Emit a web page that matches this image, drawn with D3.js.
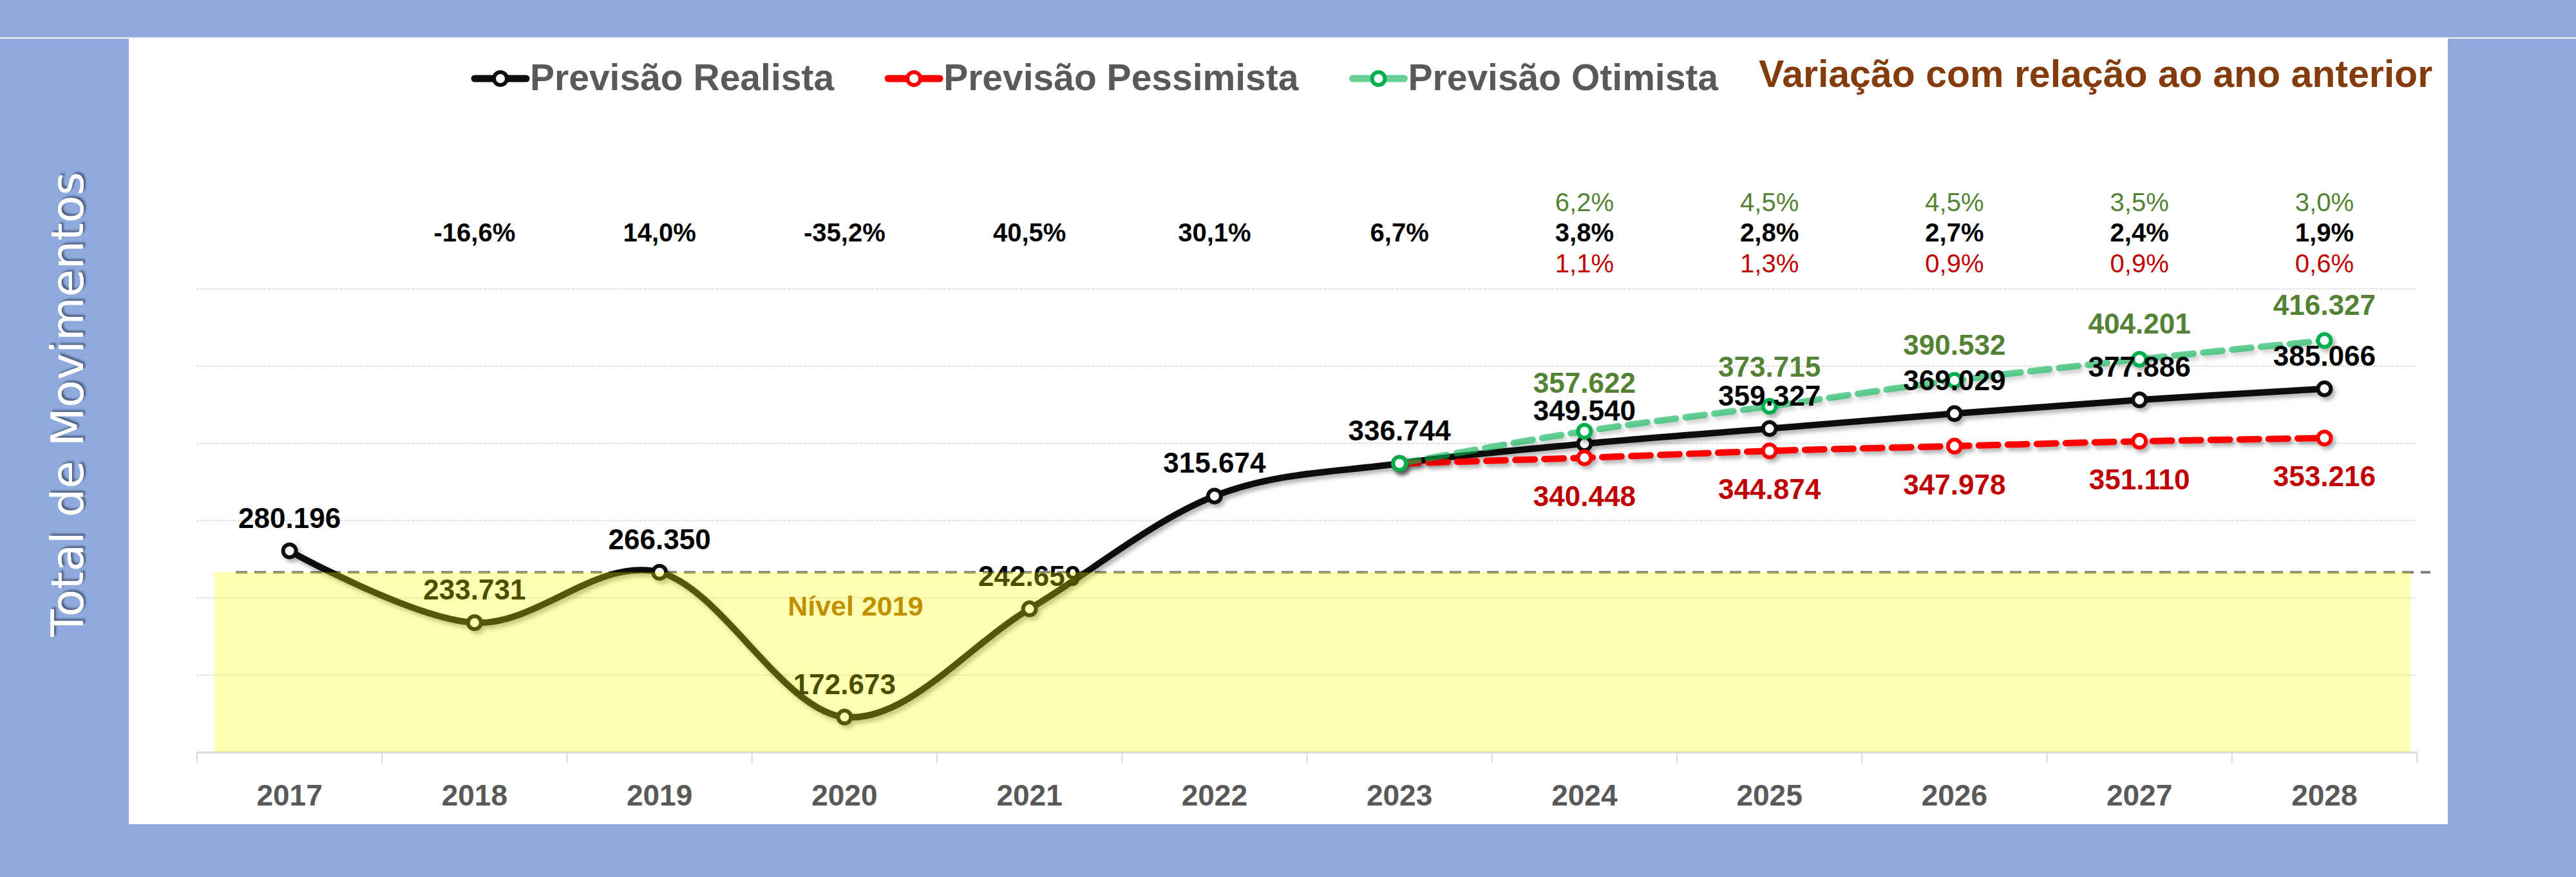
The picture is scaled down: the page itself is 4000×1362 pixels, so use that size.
<!DOCTYPE html>
<html>
<head>
<meta charset="utf-8">
<script src="https://cdn.jsdelivr.net/npm/d3@7"></script>
<style>
  html, body { margin: 0; padding: 0; background: #8FAADC; }
  svg { display: block; }
  text { font-family: "Liberation Sans", Arial, sans-serif; }
</style>
</head>
<body>
<div id="chart"></div>
<script>
// ---- data ----
const years = ["2017", "2018", "2019", "2020", "2021", "2022", "2023", "2024", "2025", "2026", "2027", "2028"]
const realista = [280196, 233731, 266350, 172673, 242659, 315674, 336744, 349540, 359327, 369029, 377886, 385066]

const cenarioYears = ["2023", "2024", "2025", "2026", "2027", "2028"]
const pessimista = [336744, 340448, 344874, 347978, 351110, 353216]
const otimista = [336744, 357622, 373715, 390532, 404201, 416327]

// variation with respect to previous year
const varRealista = ["", "-16,6%", "14,0%", "-35,2%", "40,5%", "30,1%", "6,7%", "3,8%", "2,8%", "2,7%", "2,4%", "1,9%"]
const varYears = ["2024", "2025", "2026", "2027", "2028"]
const varOtimista = ["6,2%", "4,5%", "4,5%", "3,5%", "3,0%"]
const varPessimista = ["1,1%", "1,3%", "0,9%", "0,9%", "0,6%"]

const yTicks = [150000, 200000, 250000, 300000, 350000, 400000, 450000]
const nivel2019 = 266350

const legendNames = ["Previsão Realista", "Previsão Pessimista", "Previsão Otimista"]
const legendTitle = "Variação com relação ao ano anterior"
const yTitle = "Total de Movimentos"

// ---- sizes ----
const W = 4000, H = 1362
const plot = {left: 306, right: 3753, top: 448, bottom: 1168}

const fmt = d3.formatLocale({decimal: ",", thousands: ".", grouping: [3], currency: ["", ""]}).format(",d")

const svg = d3.select("#chart")
  .append("svg")
    .attr("width", W)
    .attr("height", H)

// shadow filters
const defs = svg.append("defs")
defs.append("filter")
    .attr("id", "shadow")
    .attr("filterUnits", "userSpaceOnUse")
    .attr("x", 0).attr("y", 0).attr("width", W).attr("height", H)
  .append("feDropShadow")
    .attr("dx", 4).attr("dy", 5).attr("stdDeviation", 3)
    .attr("flood-color", "#000").attr("flood-opacity", 0.3)
defs.append("filter")
    .attr("id", "textShadow")
    .attr("x", "-10%").attr("y", "-30%").attr("width", "120%").attr("height", "160%")
  .append("feDropShadow")
    .attr("dx", 3).attr("dy", 3).attr("stdDeviation", 1.5)
    .attr("flood-color", "#1F2A44").attr("flood-opacity", 0.6)

// frame: blue background, white separator, white panel
svg.append("rect").attr("width", W).attr("height", H).attr("fill", "#8FAADC")
svg.append("rect").attr("x", 0).attr("y", 58).attr("width", W).attr("height", 2).attr("fill", "#F4F6FB")
svg.append("rect").attr("x", 200).attr("y", 60).attr("width", 3601).attr("height", 1220).attr("fill", "#fff")

// y axis title
svg.append("text")
    .attr("transform", "translate(129,628) rotate(-90)")
    .attr("text-anchor", "middle")
    .style("font-family", "'DejaVu Sans', Verdana, sans-serif")
    .style("font-size", "70px")
    .attr("fill", "#fff")
    .attr("filter", "url(#textShadow)")
    .text(yTitle)

// scales
const x = d3.scaleBand()
  .domain(years)
  .range([plot.left, plot.right])
  .padding(0)
const cx = d => x(d) + x.bandwidth() / 2

const y = d3.scaleLinear()
  .domain([yTicks[0], yTicks[yTicks.length - 1]])
  .range([plot.bottom, plot.top])

// gridlines
svg.append("g")
  .attr("transform", `translate(${plot.left},0)`)
  .call(d3.axisLeft(y).tickValues(yTicks.slice(1)).tickSize(-(plot.right - plot.left)).tickFormat(""))
  .call(g => g.select(".domain").remove())
  .call(g => g.selectAll("line")
      .attr("stroke", "#D4D4D4")
      .attr("stroke-width", 2)
      .attr("stroke-dasharray", "2,2"))

// x axis
svg.append("g")
  .attr("transform", `translate(0,${plot.bottom})`)
  .call(d3.axisBottom(x).tickSize(0).tickPadding(50))
  .call(g => g.select(".domain").attr("stroke", "#D9D9D9").attr("stroke-width", 3))
  .call(g => g.selectAll("text")
      .style("font-family", "'Liberation Sans', Arial, sans-serif")
      .style("font-size", "46px")
      .style("font-weight", "bold")
      .attr("fill", "#595959"))

// category boundary ticks
svg.append("g")
  .selectAll("line")
  .data(years.map(d => x(d)).concat([plot.right]))
  .join("line")
    .attr("x1", d => d).attr("x2", d => d)
    .attr("y1", plot.bottom).attr("y2", plot.bottom + 17)
    .attr("stroke", "#D9D9D9")
    .attr("stroke-width", 2)

// 2019 reference line
svg.append("line")
    .attr("x1", plot.left + 60).attr("x2", plot.right + 21)
    .attr("y1", y(nivel2019)).attr("y2", y(nivel2019))
    .attr("stroke", "#7F7F7F")
    .attr("stroke-width", 4)
    .attr("stroke-dasharray", "18,11")

// series
const line = d3.line()
  .x(d => cx(d.year))
  .y(d => y(d.value))
  .curve(d3.curveCardinal.tension(0))

const realData = years.map((d, i) => ({year: d, value: realista[i]}))
const pessData = cenarioYears.map((d, i) => ({year: d, value: pessimista[i]}))
const otimData = cenarioYears.map((d, i) => ({year: d, value: otimista[i]}))

const series = [
  {data: realData, line: "#0D0D0D", marker: "#0D0D0D", dash: null, opacity: 1},
  {data: pessData, line: "#FF0000", marker: "#FF0000", dash: "30,15", opacity: 1},
  {data: otimData, line: "#00B050", marker: "#00B050", dash: "30,15", opacity: 0.6}
]

series.forEach(s => {
  const g = svg.append("g").attr("filter", "url(#shadow)")
  g.append("path")
    .datum(s.data)
    .attr("d", line)
    .attr("fill", "none")
    .attr("stroke", s.line)
    .attr("stroke-opacity", s.opacity)
    .attr("stroke-width", 10)
    .attr("stroke-linecap", "round")
    .attr("stroke-dasharray", s.dash)
  g.selectAll("circle")
    .data(s.data)
    .join("circle")
      .attr("cx", d => cx(d.year))
      .attr("cy", d => y(d.value))
      .attr("r", 10)
      .attr("fill", "#fff")
      .attr("stroke", s.marker)
      .attr("stroke-width", 6)
})

// data labels
const labelStyle = sel => sel
  .attr("text-anchor", "middle")
  .style("font-size", "44px")
  .style("font-weight", "bold")

svg.append("g").selectAll("text")
  .data(realData)
  .join("text")
    .attr("x", d => cx(d.year))
    .attr("y", d => y(d.value) - 36)
    .attr("fill", "#000")
    .call(labelStyle)
    .text(d => fmt(d.value))

// some optimistic labels sit higher to clear the realistic ones
const otimLift = {"2024": 20, "2025": 6}
svg.append("g").selectAll("text")
  .data(otimData.slice(1))
  .join("text")
    .attr("x", d => cx(d.year))
    .attr("y", d => y(d.value) - 40 - (otimLift[d.year] || 0))
    .attr("fill", "#548235")
    .call(labelStyle)
    .text(d => fmt(d.value))

svg.append("g").selectAll("text")
  .data(pessData.slice(1))
  .join("text")
    .attr("x", d => cx(d.year))
    .attr("y", d => y(d.value) + 75)
    .attr("fill", "#C00000")
    .call(labelStyle)
    .text(d => fmt(d.value))

// yellow "Nível 2019" band drawn over the marks
svg.append("rect")
    .attr("x", plot.left + 27)
    .attr("y", y(nivel2019))
    .attr("width", (plot.right - 10) - (plot.left + 27))
    .attr("height", plot.bottom - y(nivel2019))
    .attr("fill", "#FFFF00")
    .attr("fill-opacity", 0.3)

svg.append("text")
    .attr("x", cx("2020") + 17)
    .attr("y", y(nivel2019) + 67)
    .attr("text-anchor", "middle")
    .style("font-size", "43px")
    .style("font-weight", "bold")
    .attr("fill", "#BF9000")
    .text("Nível 2019")

// variation rows
const pctStyle = (sel, weight) => sel
  .attr("text-anchor", "middle")
  .style("font-size", "40px")
  .style("font-weight", weight)

svg.append("g").selectAll("text")
  .data(years.map((d, i) => ({year: d, v: varRealista[i]})).filter(d => d.v))
  .join("text")
    .attr("x", d => cx(d.year))
    .attr("y", 375)
    .attr("fill", "#000")
    .call(pctStyle, "bold")
    .text(d => d.v)

svg.append("g").selectAll("text")
  .data(varYears.map((d, i) => ({year: d, v: varOtimista[i]})))
  .join("text")
    .attr("x", d => cx(d.year))
    .attr("y", 328)
    .attr("fill", "#548235")
    .call(pctStyle, "normal")
    .text(d => d.v)

svg.append("g").selectAll("text")
  .data(varYears.map((d, i) => ({year: d, v: varPessimista[i]})))
  .join("text")
    .attr("x", d => cx(d.year))
    .attr("y", 423)
    .attr("fill", "#C00000")
    .call(pctStyle, "normal")
    .text(d => d.v)

// legend
const legendItems = [
  {name: legendNames[0], line: "#0D0D0D", marker: "#0D0D0D", opacity: 1},
  {name: legendNames[1], line: "#FF0000", marker: "#FF0000", opacity: 1},
  {name: legendNames[2], line: "#00B050", marker: "#00B050", opacity: 0.6}
]
let lx = 737
legendItems.forEach(it => {
  const g = svg.append("g").attr("transform", `translate(${lx},0)`)
  g.append("line")
    .attr("x1", 0).attr("x2", 80).attr("y1", 122).attr("y2", 122)
    .attr("stroke", it.line).attr("stroke-opacity", it.opacity)
    .attr("stroke-width", 11).attr("stroke-linecap", "round")
  g.append("circle")
    .attr("cx", 40).attr("cy", 122).attr("r", 10)
    .attr("fill", "#fff").attr("stroke", it.marker).attr("stroke-width", 6)
  const t = g.append("text")
    .attr("x", 86).attr("y", 140)
    .style("font-size", "57px")
    .style("font-weight", "bold")
    .attr("fill", "#595959")
    .text(it.name)
  lx += 86 + t.node().getComputedTextLength() + 84
})

svg.append("text")
    .attr("x", lx - 84 + 63)
    .attr("y", 135)
    .style("font-size", "59px")
    .style("font-weight", "bold")
    .attr("fill", "#843C0C")
    .text(legendTitle)
</script>
</body>
</html>
